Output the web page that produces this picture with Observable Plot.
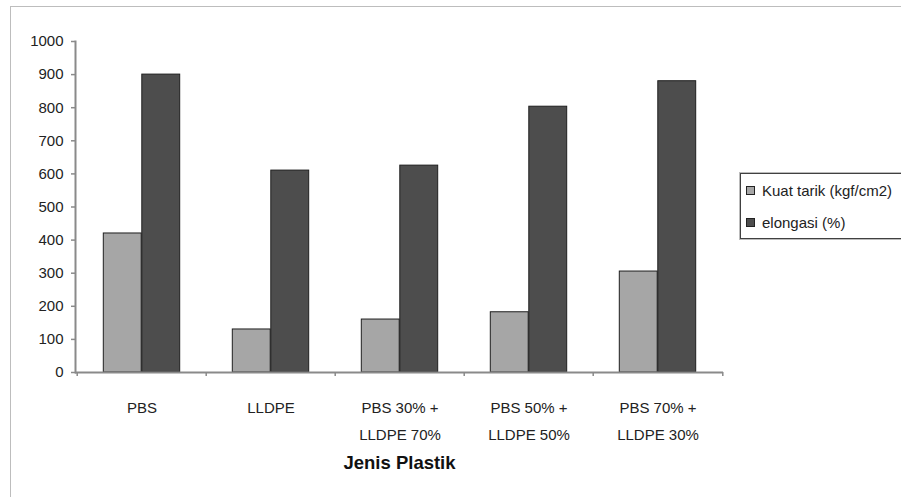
<!DOCTYPE html>
<html>
<head>
<meta charset="utf-8">
<script src="https://cdn.jsdelivr.net/npm/d3@7"></script>
<script src="https://cdn.jsdelivr.net/npm/@observablehq/plot@0.6"></script>
<style>
  body { margin: 0; background: #fff; font-family: "Liberation Sans", Arial, sans-serif; }
  #wrap { position: relative; width: 901px; height: 497px; overflow: hidden; background: #fff; }
  #border { position: absolute; left: 10px; top: 6px; width: 2000px; height: 2000px;
            border-left: 1px solid #bdbdbd; border-top: 1px solid #bdbdbd; }
  #chart { position: absolute; left: 0; top: 0; }
  #chart svg [aria-label="y-axis tick"] { stroke: #8a8a8a; stroke-width: 1.5; }
  #legend { position: absolute; left: 740px; top: 173px; width: 160px; height: 64px;
            border: 1px solid #404040; box-shadow: 0 0 0 1px #bbb; background: #fff;
            font-size: 15px; color: #222; }
  .item { position: absolute; left: 5px; height: 16px; line-height: 16px; white-space: nowrap; }
  .sw { display: inline-block; width: 7px; height: 7px; border: 1px solid #222;
        margin-right: 7px; vertical-align: 1px; }
</style>
</head>
<body>
<div id="wrap">
  <div id="border"></div>
  <div id="chart"></div>
  <div id="legend"></div>
</div>
<script>
// Plastic types on the x axis
const categories = [
  "PBS",
  "LLDPE",
  "PBS 30% +\nLLDPE 70%",
  "PBS 50% +\nLLDPE 50%",
  "PBS 70% +\nLLDPE 30%"
];
// Series values
const kuatTarik = [420, 130, 160, 182, 305];   // Kuat tarik (kgf/cm2)
const elongasi  = [900, 610, 625, 803, 880];   // elongasi (%)
const seriesNames = ["Kuat tarik (kgf/cm2)", "elongasi (%)"];
const seriesColors = ["#a6a6a6", "#4d4d4d"];
const yTicks = [0, 100, 200, 300, 400, 500, 600, 700, 800, 900, 1000];

const rows = categories.map((c, i) => ({category: c, kuat: kuatTarik[i], elong: elongasi[i]}));

const W = 901, H = 497;
const mL = 75, mR = 178, mT = 41, mB = 125;
const band = (W - mL - mR) / categories.length;   // width of one category slot
const barW = 38.5;
const gap = (band - 2 * barW) / 2;

const chart = Plot.plot({
  width: W,
  height: H,
  marginLeft: mL,
  marginRight: mR,
  marginTop: mT,
  marginBottom: mB,
  style: {fontFamily: "'Liberation Sans', Arial, sans-serif", fontSize: "15px", color: "#222", background: "transparent"},
  x: {domain: categories, padding: 0, axis: null},
  y: {domain: [0, 1000], axis: null},
  marks: [
    Plot.barY(rows, {
      x: "category", y: "kuat", fill: seriesColors[0], stroke: "#1e1e1e", strokeWidth: 1,
      insetLeft: gap, insetRight: band - gap - barW
    }),
    Plot.barY(rows, {
      x: "category", y: "elong", fill: seriesColors[1], stroke: "#1e1e1e", strokeWidth: 1,
      insetLeft: gap + barW, insetRight: gap
    }),
    // axis lines
    Plot.frame({anchor: "left", stroke: "#8a8a8a", strokeWidth: 2}),
    Plot.ruleY([0], {stroke: "#8a8a8a", strokeWidth: 2}),
    // category boundary ticks below the baseline
    Plot.ruleX(categories, {x: d => d, y1: 0, y2: 0, insetBottom: -4, dx: -band / 2, stroke: "#8a8a8a", strokeWidth: 1.5}),
    Plot.ruleX(categories.slice(-1), {x: d => d, y1: 0, y2: 0, insetBottom: -4, dx: band / 2, stroke: "#8a8a8a", strokeWidth: 1.5}),
    Plot.axisY({ticks: yTicks, tickSize: 4, tickPadding: 8, tickFormat: d => String(d), fontSize: 15}),
    // category labels
    Plot.text(categories, {
      x: d => d, text: d => d, frameAnchor: "bottom", dy: 21, lineAnchor: "top",
      lineHeight: 1.8, fontSize: 15, fill: "#222"
    }),
    // x axis title
    Plot.text(["Jenis Plastik"], {
      text: d => d, frameAnchor: "bottom", dy: 91, lineAnchor: "middle",
      fontSize: 18.5, fontWeight: "bold", fill: "#111"
    })
  ]
});
document.getElementById("chart").appendChild(chart);

// legend
const legend = document.getElementById("legend");
seriesNames.forEach((name, i) => {
  const item = document.createElement("div");
  item.className = "item";
  item.style.top = (i === 0 ? 9 : 41) + "px";
  const sw = document.createElement("span");
  sw.className = "sw";
  sw.style.background = seriesColors[i];
  item.appendChild(sw);
  item.appendChild(document.createTextNode(name));
  legend.appendChild(item);
});
</script>
</body>
</html>
